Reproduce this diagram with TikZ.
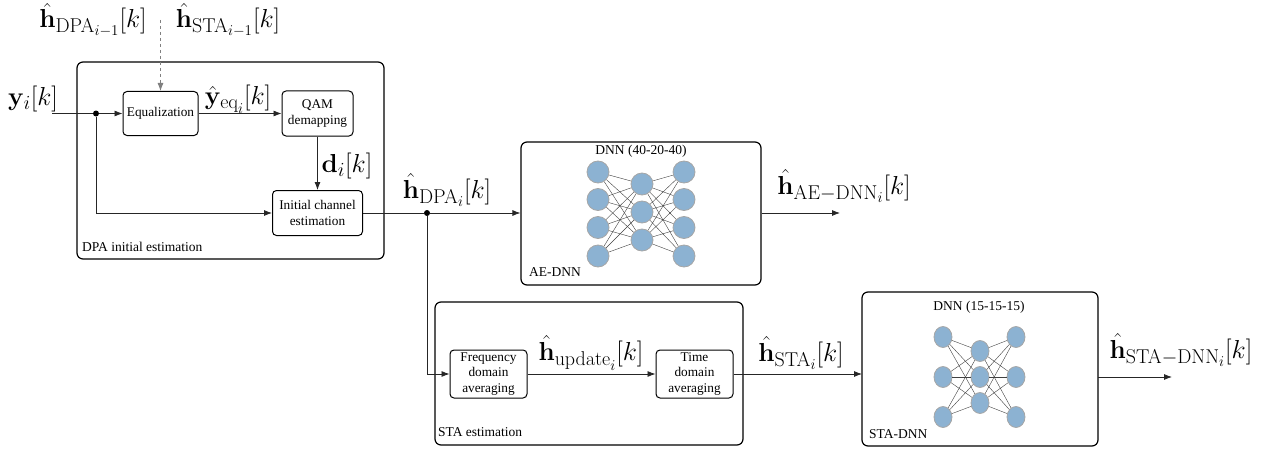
\RequirePackage{fix-cm}
\documentclass[tikz,border=0pt]{standalone}
\usepackage{amsmath}
\usepackage[no-math]{fontspec}
\setmainfont{Liberation Serif}
\usetikzlibrary{arrows.meta,shapes.geometric}
\definecolor{nnblue}{RGB}{140,178,210}
\DeclareMathSizes{26}{26}{20}{15}
\begin{document}
\begin{tikzpicture}[x=1pt,y=-1pt,
  blk/.style={draw,rounded corners=4pt,line width=1pt,align=center,inner sep=1pt,font=\fontsize{13.3}{15.5}\selectfont},
  grp/.style={draw,rounded corners=6pt,line width=1.2pt,inner sep=0pt},
  lbl/.style={font=\fontsize{13.5}{15}\selectfont,inner sep=0pt},
  conn/.style={line width=0.8pt,draw=black!85,-{Latex[length=8pt,width=6pt]}},
  ml/.style={font=\fontsize{26}{30}\selectfont,inner sep=0pt},
  neu/.style={circle,draw=gray!70,fill=nnblue,minimum size=22pt,inner sep=0pt,line width=0.8pt},
  neus/.style={ellipse,draw=gray!70,fill=nnblue,minimum width=18pt,minimum height=21pt,inner sep=0pt,line width=0.8pt},
  syn/.style={draw=black!75,line width=0.4pt},
  dot/.style={circle,fill,inner sep=0pt,minimum size=6pt}]
\useasboundingbox (0,0) rectangle (1267,452);

% group boxes
\node[grp,minimum width=307pt,minimum height=197pt] (dpa) at (230.5,160.5) {};
\node[grp,minimum width=240pt,minimum height=143pt] (ae) at (641,213.5) {};
\node[grp,minimum width=308pt,minimum height=143pt] (sta) at (589,373.5) {};
\node[grp,minimum width=236pt,minimum height=154pt] (stadnn) at (980,369) {};

\node[lbl,anchor=west] (dpalbl) at (82,247) {DPA initial estimation};
\node[lbl,anchor=west] (aelbl) at (529,272) {AE-DNN};
\node[lbl,anchor=west] (stalbl) at (438,432) {STA estimation};
\node[lbl,anchor=west] (stadnnlbl) at (869,434) {STA-DNN};
\node[lbl] (aetitle) at (641,151) {DNN (40-20-40)};
\node[lbl] (statitle) at (979,307) {DNN (15-15-15)};

% blocks
\node[blk,minimum width=75pt,minimum height=44pt] (eq) at (160.5,113.5) {Equalization};
\node[blk,minimum width=71pt,minimum height=45pt] (qam) at (317.5,113.5) {QAM\\demapping};
\node[blk,minimum width=90pt,minimum height=45pt] (ice) at (317.5,213) {Initial channel\\estimation};
\node[blk,minimum width=77pt,minimum height=48pt] (fda) at (488.5,374) {Frequency\\domain\\averaging};
\node[blk,minimum width=77pt,minimum height=48pt] (tda) at (694.5,374) {Time\\domain\\averaging};

% coordinates
\coordinate (yin) at (52,113.5);
\coordinate (fb) at (160.5,20);
\coordinate (aeout) at (840,213);
\coordinate (stain) at (862,374);
\coordinate (stadnnsrc) at (1098,377);
\coordinate (stadnnout) at (1172,377);
\node[dot] (d1) at (96,113.5) {};
\node[dot] (d2) at (427,213) {};

% connectors
\draw[line width=0.8pt,draw=black!85] (yin) -- (d1);
\draw[conn] (d1) -- (eq);
\draw[conn] (d1) |- (ice.west);
\draw[conn,dashed,draw=gray] (fb) -- (eq.north);
\draw[conn] (eq) -- (qam);
\draw[conn] (qam) -- (ice);
\draw[line width=0.8pt,draw=black!85] (ice.east) -- (d2);
\draw[conn] (d2) -- (ae.west |- d2);
\draw[conn] (d2) |- (fda.west);
\draw[conn] (fda) -- (tda);
\draw[conn] (tda) -- (stain);
\draw[conn] (ae.east |- aeout) -- (aeout);
\draw[conn] (stadnnsrc) -- (stadnnout);

% math labels
\node[ml] (lyin) at (33,99) {$\mathbf{y}_i[k]$};
\node[ml] (lhdpa1) at (93,20) {$\hat{\mathbf{h}}_{\mathrm{DPA}_{i-1}}[k]$};
\node[ml] (lhsta1) at (228,20) {$\hat{\mathbf{h}}_{\mathrm{STA}_{i-1}}[k]$};
\node[ml] (lyeq) at (238,99) {$\hat{\mathbf{y}}_{\mathrm{eq}_i}[k]$};
\node[ml] (ld) at (347,166) {$\mathbf{d}_i[k]$};
\node[ml] (lhdpa) at (447,190) {$\hat{\mathbf{h}}_{\mathrm{DPA}_i}[k]$};
\node[ml] (lhae) at (844,186) {$\hat{\mathbf{h}}_{\mathrm{AE-DNN}_i}[k]$};
\node[ml] (lhup) at (591,353) {$\hat{\mathbf{h}}_{\mathrm{update}_i}[k]$};
\node[ml] (lhsta) at (801,353) {$\hat{\mathbf{h}}_{\mathrm{STA}_i}[k]$};
\node[ml] (lhstadnn) at (1181,350) {$\hat{\mathbf{h}}_{\mathrm{STA-DNN}_i}[k]$};

% AE-DNN network
\foreach \i/\y in {1/172,2/199.5,3/227.5,4/256}{
  \node[neu] (a\i) at (598,\y) {};
  \node[neu] (c\i) at (684,\y) {};
}
\foreach \j/\y in {1/184,2/212,3/240}{
  \node[neu] (b\j) at (642,\y) {};
}
\foreach \i in {1,...,4}{
  \foreach \j in {1,2,3}{
    \draw[syn] (a\i) -- (b\j);
    \draw[syn] (b\j) -- (c\i);
  }
}

% STA-DNN network
\foreach \i/\y in {1/337,2/377,3/417}{
  \node[neus] (p\i) at (943,\y) {};
  \node[neus] (r\i) at (1016,\y) {};
}
\foreach \j/\y in {1/351,2/377,3/403}{
  \node[neus] (q\j) at (980,\y) {};
}
\foreach \i in {1,2,3}{
  \foreach \j in {1,2,3}{
    \draw[syn] (p\i) -- (q\j);
    \draw[syn] (q\j) -- (r\i);
  }
}
\end{tikzpicture}
\end{document}
